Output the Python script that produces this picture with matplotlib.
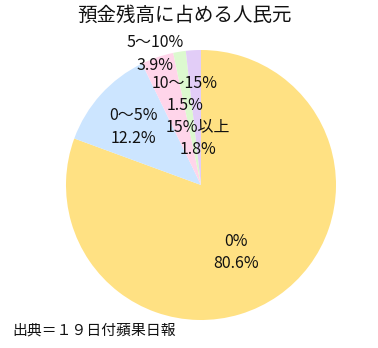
import matplotlib
matplotlib.use("Agg")
import matplotlib.pyplot as plt

plt.rcParams["font.family"] = ["Noto Sans CJK JP", "DejaVu Sans"]

# 預金残高の人民元比率ごとの割合
categories = ["0%", "0〜5%", "5〜10%", "10〜15%", "15%以上"]
shares = [80.6, 12.2, 3.9, 1.5, 1.8]
colors = ["#FFE183", "#CCE5FF", "#FFD5EA", "#DCF9CF", "#E2CDF7"]

# ラベルの置き場所（円の半径を1とした座標）
label_pos = [(0.26, -0.50), (-0.50, 0.43), (-0.34, 0.97), (-0.12, 0.67), (-0.02, 0.35)]

W, H = 378, 348
fig = plt.figure(figsize=(W / 100, H / 100), dpi=100)
cx, cy, r = 201, 185, 135
ax = fig.add_axes([(cx - r) / W, (H - cy - r) / H, 2 * r / W, 2 * r / H])

ax.pie(shares, colors=colors, startangle=90, counterclock=False, radius=1,
       wedgeprops=dict(linewidth=0))
ax.set_xlim(-1, 1)
ax.set_ylim(-1, 1)
ax.set_aspect("equal")
ax.axis("off")

for cat, val, (x, y) in zip(categories, shares, label_pos):
    ax.text(x, y, f"{cat}\n{val:.1f}%", ha="center", va="center",
            fontsize=11.5, linespacing=1.45, color="#111111", clip_on=False)

fig.text(184 / W, 1 - 15 / H, "預金残高に占める人民元", ha="center", va="center",
         fontsize=14, color="#111111")
fig.text(12 / W, 1 - 330 / H, "出典＝１９日付蘋果日報", ha="left", va="center",
         fontsize=10.7, color="#111111")

fig.savefig("out.png", dpi=100)
